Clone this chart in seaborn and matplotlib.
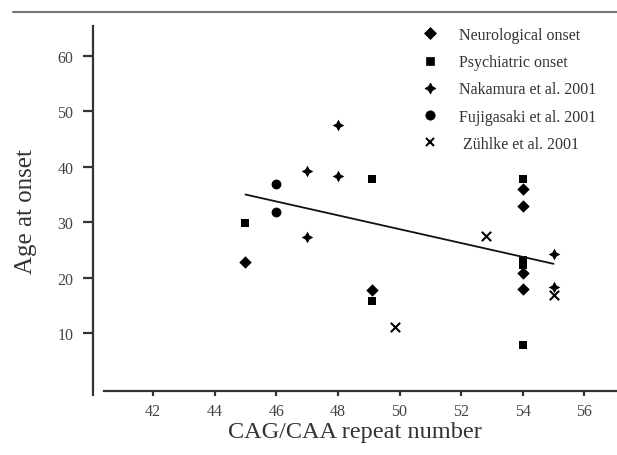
import matplotlib
matplotlib.use("Agg")
import matplotlib.pyplot as plt
from matplotlib.lines import Line2D
import seaborn as sns
import pandas as pd

# ---- data ----
neuro_x = [45, 49.1, 54, 54, 54, 54]
neuro_y = [22.8, 17.8, 36.0, 33.0, 20.8, 18.0]
psych_x = [45, 49.1, 49.1, 54, 54, 54, 54]
psych_y = [29.8, 37.8, 15.8, 37.8, 23.2, 22.2, 7.8]
naka_x = [47, 47, 48, 48, 55, 55]
naka_y = [39.3, 27.3, 47.5, 38.4, 24.3, 18.4]
fuji_x = [46, 46]
fuji_y = [36.9, 31.8]
zuhlke_x = [49.85, 52.8, 55]
zuhlke_y = [11.1, 27.6, 16.8]
fit_x = [45, 55]
fit_y = [35.0, 22.5]

labels = ["Neurological onset", "Psychiatric onset", "Nakamura et al. 2001",
          "Fujigasaki et al. 2001", " Zühlke et al. 2001"]
xticks = [42, 44, 46, 48, 50, 52, 54, 56]
yticks = [10, 20, 30, 40, 50, 60]

sns.set_theme(style="white")
plt.rcParams["font.family"] = ["Liberation Serif", "DejaVu Serif"]

fig = plt.figure(figsize=(6.17, 4.56), dpi=100)
ax = fig.add_axes([93 / 617, 1 - 396.2 / 456, (617 - 93) / 617, 369.2 / 456])

groups = [
    (neuro_x, neuro_y, "D", 40, labels[0], None),
    (psych_x, psych_y, "s", 36, labels[1], None),
    (naka_x, naka_y, (4, 1, 0), 70, labels[2], None),
    (fuji_x, fuji_y, "o", 50, labels[3], None),
    (zuhlke_x, zuhlke_y, "x", 45, labels[4], 1.5),
]
handles = []
for gx, gy, mk, sz, lab, lw in groups:
    df = pd.DataFrame({"x": gx, "y": gy})
    kw = dict(linewidth=lw) if lw else dict(linewidth=0)
    sns.scatterplot(data=df, x="x", y="y", marker=mk, s=sz, color="black",
                    edgecolor="black", ax=ax, legend=False, **kw)
    handles.append(Line2D([], [], linestyle="none", marker=mk, color="black",
                          markersize=(sz ** 0.5) * 0.95,
                          markeredgewidth=(lw if lw else 0.5), label=lab))

fit_df = pd.DataFrame({"x": fit_x, "y": fit_y})
sns.lineplot(data=fit_df, x="x", y="y", color="#111111", linewidth=1.3, ax=ax)

ax.set_xlim(40.05, 57.06)
ax.set_ylim(-1.2, 65.4)
ax.set_xticks(xticks)
ax.set_yticks(yticks)

for s in ["top", "right"]:
    ax.spines[s].set_visible(False)
for s in ["left", "bottom"]:
    ax.spines[s].set_color("#333333")
    ax.spines[s].set_linewidth(1.6)
ax.spines["bottom"].set_position(("data", -0.4))
ax.spines["bottom"].set_bounds(40.4, 57.06)

ax.tick_params(axis="y", direction="out", length=7, width=1.6, color="#333333",
               pad=7, labelsize=11.5, labelcolor="#444444", left=True)
ax.tick_params(axis="x", direction="out", length=3.5, width=1.6, color="#333333",
               pad=5, labelsize=11.5, labelcolor="#444444", bottom=True)

ax.set_xlabel("CAG/CAA repeat number", fontsize=17.5, color="#333333", labelpad=2)
ax.set_ylabel("Age at onset", fontsize=18, color="#333333", labelpad=15)

leg = fig.legend(handles=handles, loc="upper left",
                 bbox_to_anchor=(422 / 617, 1 - 28 / 456), frameon=False,
                 fontsize=11.5, labelspacing=0.7, handletextpad=1.3,
                 handlelength=1.0, borderaxespad=0, borderpad=0)
for t in leg.get_texts():
    t.set_color("#333333")

fig.add_artist(Line2D([13 / 617, 1.0], [1 - 13 / 456, 1 - 13 / 456],
                      color="#777777", linewidth=1.5, transform=fig.transFigure))

fig.savefig("out.png", dpi=100)
